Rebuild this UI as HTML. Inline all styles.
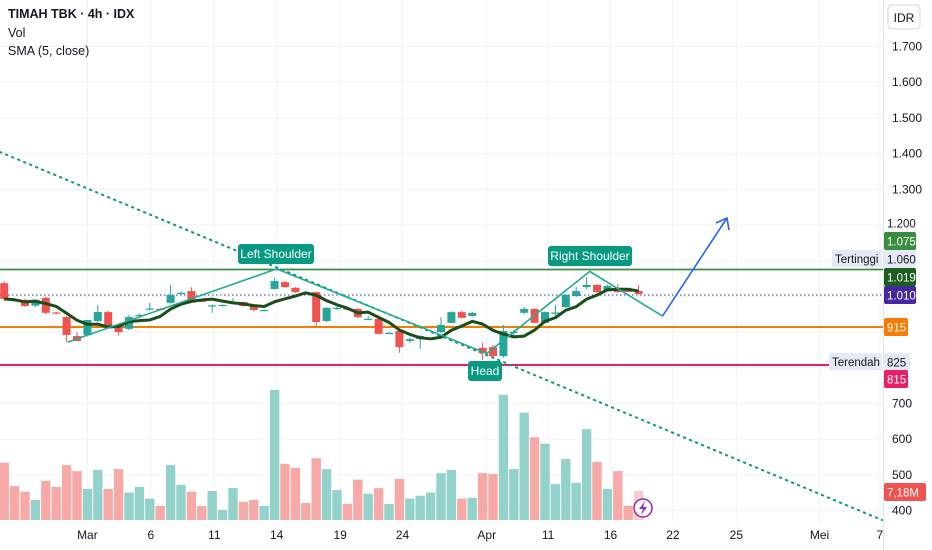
<!DOCTYPE html>
<html><head><meta charset="utf-8">
<style>
html,body{margin:0;padding:0;background:#fff;width:932px;height:550px;overflow:hidden}
svg{display:block;font-family:"Liberation Sans",sans-serif}
</style></head>
<body>
<svg id="chart" width="932" height="550" viewBox="0 0 932 550" xmlns="http://www.w3.org/2000/svg">
<g id="grid"></g>
<g id="vol"></g>
<g id="lines"></g>
<g id="candles"></g>
<g id="overlay"></g>
<g id="axis"></g>
</svg>
<script>
const opens=[1037,990,990,974,996,955,942,889,892,931,956,917,909,946,964,965,982,1008,1015,988,973,974,983,984,973,960,1021,1040,1024,1012,1012,931,966,966,965,936,937,897,903,875,881,880,900,926,956,945,856,858,833,900,954,965,926,953,970,1001,1026,1032,1018,1024,1016,1015];
const highs=[1043,994,994,978,999,957,945,900,895,976,960,920,948,952,982,968,1032,1014,1026,990,978,978,996,986,975,963,1052,1043,1026,1014,1014,970,972,968,967,946,939,900,906,884,892,883,942,958,960,956,870,864,920,906,970,967,958,976,1006,1026,1054,1035,1032,1035,1018,1032];
const lows=[988,986,970,970,950,950,872,875,888,928,912,890,906,943,960,960,980,1004,985,984,954,972,980,971,958,958,1019,1024,1010,1005,914,928,962,960,938,934,893,894,842,870,853,878,897,924,938,943,822,828,828,886,950,924,924,940,968,999,1020,1010,1015,1010,1012,1005];
const closes=[993,988,973,991,954,954,892,875,934,956,914,900,942,948,966,963,1004,1010,987,986,975,976,985,973,962,962,1043,1026,1012,1007,928,968,968,964,942,937,895,898,858,880,889,881,920,956,940,954,842,833,903,901,965,926,956,955,1004,1015,1032,1012,1029,1012,1015,1007];
const volumes=[14.2,8.4,7.0,5.0,9.7,8.2,13.6,12.1,7.7,12.4,7.7,12.6,6.8,8.2,5.3,3.5,13.6,8.7,7.0,3.5,7.2,2.5,7.9,4.5,5.0,3.5,32.2,13.9,12.9,4.2,15.3,12.6,7.4,4.0,10.0,6.5,7.9,4.0,10.2,5.3,6.0,6.8,11.6,12.4,5.3,5.5,11.6,11.4,31.0,12.6,26.6,20.5,18.9,8.9,15.1,9.2,22.5,14.4,7.7,12.1,3.5,7.18];
const priceTicks=[1700,1600,1500,1400,1300,1200,700,600,500,400];
const priceTickLabels=["1.700","1.600","1.500","1.400","1.300","1.200","700","600","500","400"];
const dateLabels=["Mar","6","11","14","19","24","Apr","11","16","22","25","Mei","7"];
const dateBarIdx=[8,14.1,20.2,26.2,32.3,38.3,46.4,52.3,58.3,64.3,70.4,78.4,84.2];
const patternBars=[6.1,26.2,46.4,56.3,63.3];
const patternPrices=[872,1077,840,1070,945];

const S='http://www.w3.org/2000/svg';
const X=i=>4.2+i*10.4;
const Y=p=>225+(1200-p)*0.357;
const VY=v=>520-v*4.04;
function mk(tag,attrs,parent,txt){const e=document.createElementNS(S,tag);for(const k in attrs)e.setAttribute(k,attrs[k]);if(txt!==undefined)e.textContent=txt;parent.appendChild(e);return e;}
const grid=document.getElementById('grid'),vol=document.getElementById('vol'),lines=document.getElementById('lines'),cg=document.getElementById('candles'),ov=document.getElementById('overlay'),ax=document.getElementById('axis');
const UP='#26a69a',DN='#ef5350';
const O=opens;

// grid
priceTicks.forEach((p,k)=>{const g=mk('line',{x1:0,x2:883,y1:Y(p),y2:Y(p),stroke:'#f0f3fa'},grid);

});
[1100,1000,900,800].forEach(p=>{const g=mk('line',{x1:0,x2:883,y1:Y(p),y2:Y(p),stroke:'#f0f3fa'},grid);

});
dateBarIdx.forEach((b,k)=>{const x=X(b);
const g=mk('line',{x1:x,x2:x,y1:0,y2:522,stroke:'#f0f3fa'},grid);


const t=mk('text',{x:x,y:539,'text-anchor':'middle','font-size':12,fill:'#131722'},ax,dateLabels[k]);

});

// volume
volumes.forEach((v,i)=>{const up=closes[i]>=O[i];
const r=mk('rect',{x:X(i)-4.7,y:VY(v),width:9.4,height:520-VY(v),fill:up?'#93d2cb':'#f7a9a7',opacity:i==volumes.length-1?0.6:1},vol);

});

// level lines
function hl(y,c,w,dash,x2,name){const l=mk('line',{x1:0,x2:x2,y1:y,y2:y,stroke:c,'stroke-width':w},lines);if(dash)l.setAttribute('stroke-dasharray',dash);

}
hl(269.5,'#388e3c',1.8,null,883,'resistance-line');
hl(295,'#5e55c8',1.2,'1.5 2.5',883,'last-price-line');
hl(327,'#f57c00',2,null,883,'support-line');
hl(365,'#e91e63',2,null,830,'low-line');
const tl=mk('line',{x1:0,y1:152,x2:882,y2:520,stroke:'#089981','stroke-width':2,'stroke-dasharray':'1.5 5','stroke-linecap':'round'},lines);



// candles
closes.forEach((c,i)=>{const o=O[i],up=c>=o,col=up?UP:DN,x=X(i);
const g=mk('g',{},cg);


mk('line',{x1:x,x2:x,y1:Y(highs[i]),y2:Y(lows[i]),stroke:col,'stroke-width':1},g);
const t=Y(Math.max(o,c)),b=Y(Math.min(o,c));
mk('rect',{x:x-4,y:t,width:8,height:Math.max(1.2,b-t),fill:col},g);});

// SMA 5
let pts=[];closes.forEach((c,i)=>{const s=closes.slice(Math.max(0,i-4),i+1);const a=s.reduce((p,q)=>p+q,0)/s.length;pts.push(X(i)+','+Y(a));});
const sma=mk('polyline',{points:pts.join(' '),fill:'none',stroke:'#1b4d1b','stroke-width':3,'stroke-linejoin':'round'},cg);



// pattern
const pp=patternBars.map((b,k)=>X(b)+','+Y(patternPrices[k]));
const hs=mk('polyline',{points:pp.join(' '),fill:'none',stroke:'#22ab94','stroke-width':1.6},ov);


const ex=X(patternBars[4]),ey=Y(patternPrices[4]),tx=727,ty=218;
const ar=mk('path',{d:`M${ex} ${ey} L${tx} ${ty} M${tx-11} ${ty+5} L${tx} ${ty} L${tx+2} ${ty+12}`,fill:'none',stroke:'#2962ff','stroke-width':1.6},ov);


function lbl(x,y,w,txt,name){const g=mk('g',{},ov);


mk('rect',{x:x,y:y,width:w,height:20,rx:3,fill:'#089981'},g);
mk('text',{x:x+w/2,y:y+14,'text-anchor':'middle','font-size':12,fill:'#fff'},g,txt);}
lbl(238,244,76,'Left Shoulder','left-shoulder-label');
lbl(548,246,84,'Right Shoulder','right-shoulder-label');
lbl(468,361,34,'Head','head-label');

// legend
const lg=[['TIMAH TBK · 4h · IDX',18,'bold'],['Vol',37,'normal'],['SMA (5, close)',55,'normal']];
lg.forEach(l=>{const t=mk('text',{x:8,y:l[1],'font-size':12.5,'font-weight':l[2],fill:'#131722'},ax,l[0]);

});

// right axis
mk('line',{x1:883.5,x2:883.5,y1:0,y2:550,stroke:'#e0e3eb'},ax);
const idr=mk('g',{},ax);


mk('rect',{x:888,y:5,width:32,height:24,rx:4,fill:'#fff',stroke:'#d1d4dc'},idr);
mk('text',{x:904,y:22,'text-anchor':'middle','font-size':12,fill:'#131722'},idr,'IDR');
priceTicks.forEach((p,k)=>{if(p===1200)return;const t=mk('text',{x:892,y:Y(p)+4,'font-size':12,fill:'#131722'},ax,priceTickLabels[k]);

});
function tag(y,txt,bg,fg,w){const g=mk('g',{},ax);


if(bg)mk('rect',{x:884,y:y,width:w||31,height:18,rx:2,fill:bg},g);
mk('text',{x:887,y:y+13.5,'font-size':11.5,fill:fg},g,txt);}
tag(214,'1.200',null,'#131722');
tag(232,'1.075','#388e3c','#fff',32);
mk('rect',{x:832,y:250,width:50,height:17,fill:'#e3eaf5'},ax);
mk('text',{x:835,y:263,'font-size':11.5,fill:'#131722'},ax,'Tertinggi');
tag(250,'1.060','#e3eaf5','#131722',32);
tag(268,'1.019','#1b5e20','#fff',32);
tag(286,'1.010','#4527a0','#fff',32);
tag(318,'915','#f57c00','#fff',24);
mk('rect',{x:829,y:353,width:53,height:17,fill:'#e3eaf5'},ax);
mk('text',{x:832,y:366,'font-size':11.5,fill:'#131722'},ax,'Terendah');
tag(353,'825','#e3eaf5','#131722',26);
tag(370,'815','#e91e63','#fff',24);
tag(483,'7,18M','#ef5350','#fff',42);
// lightning icon
const li=mk('g',{},ax);


mk('circle',{cx:643,cy:508,r:9,fill:'#fff',stroke:'#9c27b0','stroke-width':1.5},li);
mk('path',{d:'M645 501 L639 509 L643 509 L641 515 L647 507 L643 507 Z',fill:'#9c27b0'},li);
</script>
</body></html>
